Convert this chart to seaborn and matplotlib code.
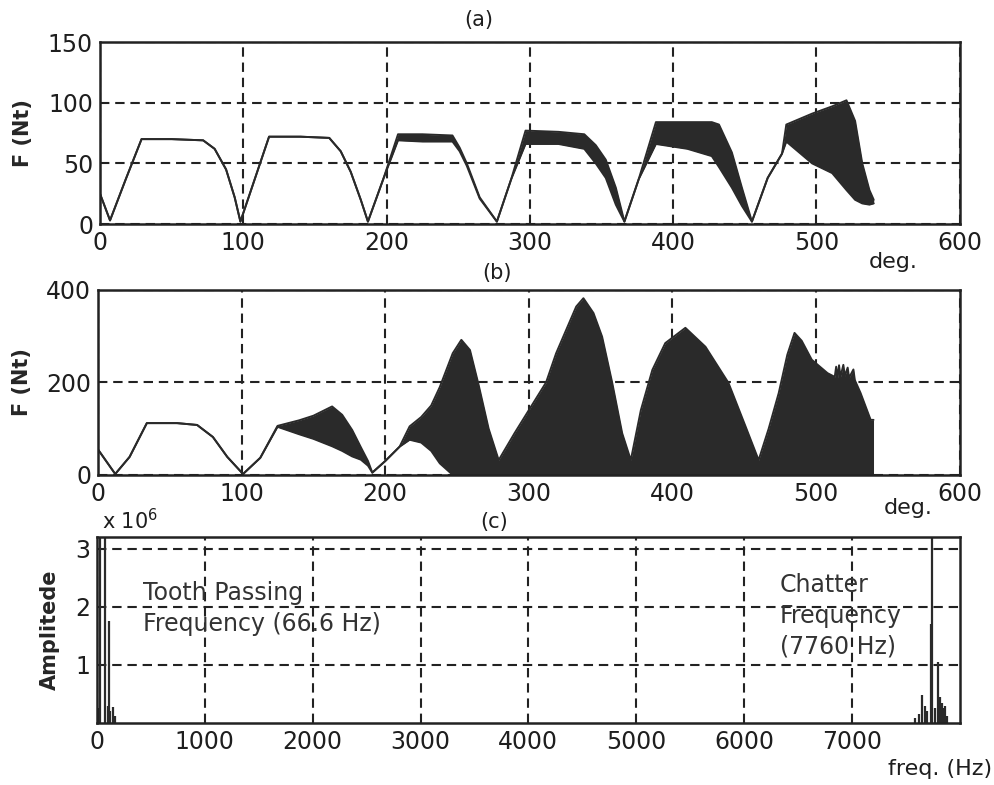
import numpy as np
import matplotlib
matplotlib.use("Agg")
import matplotlib.pyplot as plt
import seaborn as sns

# (a) force vs. rotation angle, stable -> growing chatter (envelope)
a_deg = [0, 7, 18, 29, 50, 72, 80, 88, 94, 98,
         108, 118, 140, 160, 168, 175, 182, 187,
         198, 208, 225, 246, 251, 256, 265, 277,
         287, 297, 320, 338, 346, 353, 360, 366,
         376, 388, 410, 427, 432, 441, 448, 455,
         466, 476, 479, 497, 511, 521, 527, 532, 537, 540]
a_upper = [25, 3, 37, 70, 70, 69, 62, 45, 22, 2,
           37, 72, 72, 71, 60, 43, 20, 2,
           38, 74, 74, 73, 63, 50, 22, 2,
           37, 77, 76, 74, 65, 53, 30, 2,
           37, 84, 84, 84, 82, 59, 30, 2,
           38, 58, 82, 91, 97, 102, 85, 50, 28, 20]
a_lower = [25, 3, 37, 70, 70, 69, 62, 45, 22, 2,
           37, 72, 72, 71, 60, 43, 20, 2,
           38, 69, 68, 68, 60, 48, 21, 2,
           37, 66, 66, 62, 50, 38, 16, 2,
           37, 66, 62, 56, 47, 30, 15, 2,
           38, 58, 68, 50, 42, 28, 20, 17, 16, 17]

# (b) force vs. rotation angle, severe chatter
b_deg = [0, 12, 22, 34, 55, 69, 80, 90, 101,
         113, 125, 140, 150, 163, 170, 177, 183, 188, 191,
         200, 210, 217, 225, 232, 238, 247, 253, 259, 265, 272, 279,
         290, 300, 312, 319, 333, 338, 345, 351, 358, 365, 371,
         378, 386, 395, 409, 423, 439, 451, 460,
         467, 474, 480, 485, 490, 497, 508, 513, 514, 515, 516, 517,
         519, 520, 522, 523, 526, 527, 531, 538, 540]
b_upper = [55, 2, 39, 112, 112, 108, 82, 39, 2,
           37, 106, 118, 128, 148, 130, 97, 60, 30, 5,
           30, 61, 105, 125, 150, 190, 263, 292, 270, 195, 100, 32,
           90, 140, 200, 263, 364, 382, 350, 299, 200, 90, 32,
           140, 227, 285, 318, 277, 199, 104, 32,
           100, 177, 260, 307, 290, 249, 220, 212, 234, 210, 237, 212,
           238, 214, 232, 210, 228, 205, 177, 119, 119]
b_lower = [55, 2, 39, 112, 112, 108, 82, 39, 2,
           37, 104, 88, 78, 62, 52, 40, 33, 20, 5,
           30, 61, 76, 70, 52, 25, 0, 0, 0, 0, 0, 0,
           0, 0, 0, 0, 0, 0, 0, 0, 0, 0, 0,
           0, 0, 0, 0, 0, 0, 0, 0,
           0, 0, 0, 0, 0, 0, 0, 0, 0, 0, 0, 0,
           0, 0, 0, 0, 0, 0, 0, 0, 0]

# (c) spectrum, amplitudes in units of 1e6
c_freq = [20, 30, 70, 100, 110, 125, 150, 170,
          7590, 7620, 7650, 7680, 7700, 7730, 7745, 7770, 7800, 7820, 7835, 7850, 7865, 7880]
c_amp = [0.25, 3.2, 3.2, 0.3, 1.75, 0.2, 0.28, 0.12,
         0.08, 0.15, 0.48, 0.3, 0.2, 1.7, 3.2, 0.25, 1.05, 0.45, 0.35, 0.25, 0.3, 0.12]

deg_ticks = [0, 100, 200, 300, 400, 500, 600]
freq_ticks = [0, 1000, 2000, 3000, 4000, 5000, 6000, 7000]

sns.set_theme(style="white")
plt.rcParams["font.family"] = ["DejaVu Sans"]
plt.rcParams["axes.edgecolor"] = "#1e1e1e"
plt.rcParams["text.color"] = "#1e1e1e"
plt.rcParams["xtick.color"] = "#1e1e1e"
plt.rcParams["ytick.color"] = "#1e1e1e"

ink = "#2a2a2a"
fig = plt.figure(figsize=(9.95, 7.85), dpi=100)
ax_a = fig.add_axes([0.1005, 0.7146, 0.864, 0.2318])
ax_b = fig.add_axes([0.0985, 0.395, 0.866, 0.2357])
ax_c = fig.add_axes([0.0975, 0.079, 0.867, 0.237])


def style(ax, xticks, yticks, ylabels):
    ax.set_xticks(xticks)
    ax.set_yticks(yticks)
    ax.set_yticklabels(ylabels)
    ax.tick_params(direction="in", length=5, width=1.3, labelsize=17, pad=5)
    ax.grid(True, color="#222222", linestyle=(0, (4.5, 2.8)), linewidth=1.5)
    for s in ax.spines.values():
        s.set_linewidth(1.8)
        s.set_color("#222222")


def band(ax, x, up, lo):
    sns.lineplot(x=x, y=up, ax=ax, color=ink, lw=1.4, sort=False)
    sns.lineplot(x=x, y=lo, ax=ax, color=ink, lw=1.4, sort=False)
    ax.fill_between(x, lo, up, color=ink, lw=0)


# (a)
band(ax_a, a_deg, a_upper, a_lower)
ax_a.set_xlim(0, 600)
ax_a.set_ylim(0, 150)
style(ax_a, deg_ticks, [0, 50, 100, 150], ["0", "50", "100", "150"])
ax_a.set_ylabel("F (Nt)", fontsize=15, fontweight="bold")
ax_a.yaxis.set_label_coords(-0.078, 0.5)
ax_a.text(0.44, 1.12, "(a)", transform=ax_a.transAxes, ha="center", va="center", fontsize=15)
ax_a.text(0.923, -0.21, "deg.", transform=ax_a.transAxes, ha="center", va="center", fontsize=16)

# (b)
band(ax_b, b_deg, b_upper, b_lower)
ax_b.set_xlim(0, 600)
ax_b.set_ylim(0, 400)
style(ax_b, deg_ticks, [0, 200, 400], ["0", "200", "400"])
ax_b.set_ylabel("F (Nt)", fontsize=15, fontweight="bold")
ax_b.yaxis.set_label_coords(-0.077, 0.5)
ax_b.text(0.463, 1.09, "(b)", transform=ax_b.transAxes, ha="center", va="center", fontsize=15)
ax_b.text(0.94, -0.18, "deg.", transform=ax_b.transAxes, ha="center", va="center", fontsize=16)

# (c)
ax_c.vlines(c_freq, 0, np.array(c_amp) * 1e6, color=ink, lw=1.6)
ax_c.set_xlim(0, 8000)
ax_c.set_ylim(0, 3.2e6)
style(ax_c, freq_ticks, [1e6, 2e6, 3e6], ["1", "2", "3"])
ax_c.set_ylabel("Amplitede", fontsize=15, fontweight="bold")
ax_c.yaxis.set_label_coords(-0.043, 0.5)
ax_c.text(0.006, 1.02, r"x 10$^6$", transform=ax_c.transAxes, ha="left", va="bottom", fontsize=15)
ax_c.text(0.46, 1.08, "(c)", transform=ax_c.transAxes, ha="center", va="center", fontsize=15)
ax_c.text(0.977, -0.25, "freq. (Hz)", transform=ax_c.transAxes, ha="center", va="center", fontsize=16)
ax_c.text(430, 1.97e6, "Tooth Passing\nFrequency (66.6 Hz)", fontsize=17, va="center",
          linespacing=1.35, color="#333333")
ax_c.text(6333, 1.84e6, "Chatter\nFrequency\n(7760 Hz)", fontsize=17, va="center",
          linespacing=1.35, color="#333333")

fig.savefig("out.png", dpi=100, facecolor="white")
